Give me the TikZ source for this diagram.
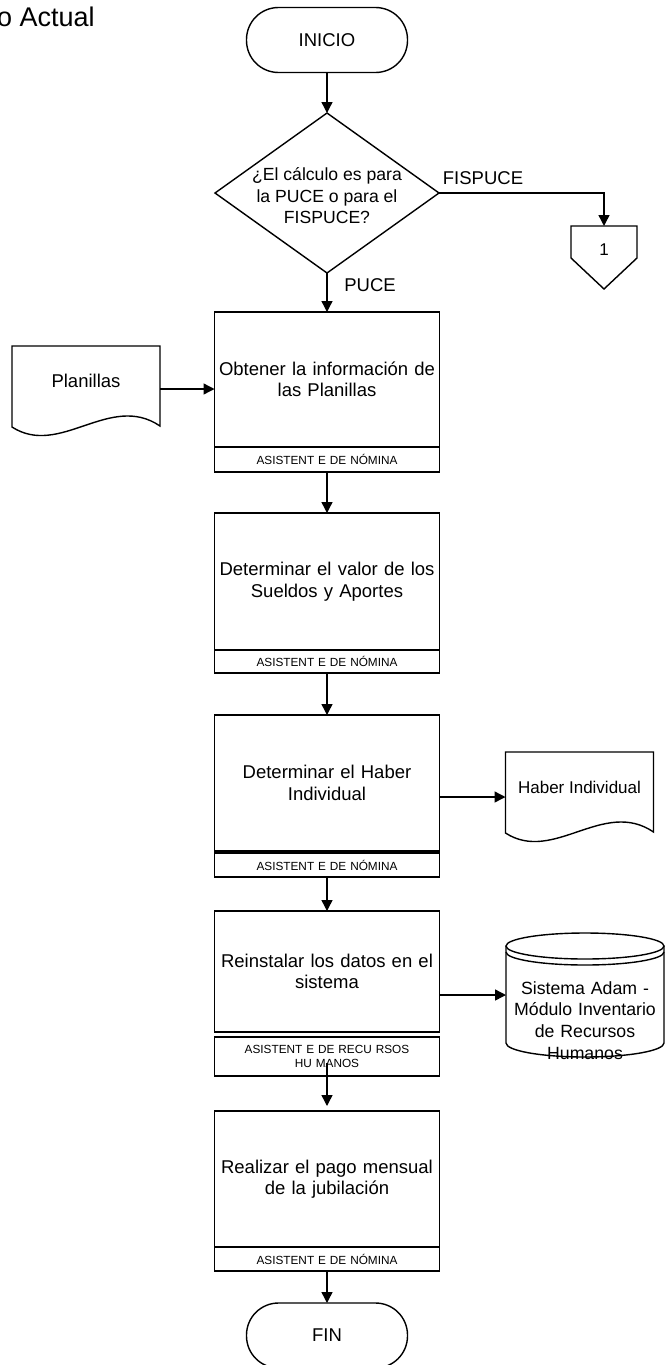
\documentclass[tikz,border=0pt]{standalone}
\usepackage{fontspec}
\setmainfont{Liberation Sans}
\usetikzlibrary{positioning,shapes.geometric,arrows.meta}

\begin{document}
\begin{tikzpicture}[x=1pt, y=-1pt, line width=1.4pt,
		box/.style={draw, outer sep=0pt, minimum width=225pt, text width=220pt, inner sep=1pt, align=center, font=\fontsize{18.5}{21.5}\selectfont},
		who/.style={draw, outer sep=0pt, minimum width=225pt, minimum height=24pt, text width=220pt, inner sep=1pt, align=center, font=\fontsize{11.8}{13.5}\selectfont},
		term/.style={draw, outer sep=0pt, rounded corners=32pt, minimum width=161pt, minimum height=65pt, font=\fontsize{18.5}{21.5}\selectfont},
		dec/.style={draw, diamond, outer sep=0pt, inner sep=0pt, minimum width=224pt, minimum height=160pt},
		dtxt/.style={align=center, font=\fontsize{17.6}{21.5}\selectfont},
		doc/.style={outer sep=0pt, minimum width=148pt, minimum height=70pt, align=center},
		lbl/.style={font=\fontsize{18.5}{21.5}\selectfont},
		arr/.style={-{Triangle[length=11pt,width=11pt]}}]

		\useasboundingbox (0,0) rectangle (665,1365);

		\node[anchor=base west, font=\fontsize{27}{30}\selectfont] (t) at (-7,26) {o Actual};

		\node[term] (a) at (327,40) {INICIO};
		\node[dec, below=40.5pt of a, label={[dtxt, yshift=-3pt]center:{¿El cálculo es para\\la PUCE o para el\\FISPUCE?}}] (b) {};
		\node[minimum width=66pt, minimum height=48pt, outer sep=0pt, font=\fontsize{17}{20}\selectfont] (c) at (604,250) {1};

		\node[box, minimum height=135pt, below=39pt of b] (b1) {Obtener la información de\\las Planillas};
		\node[who, minimum height=25pt, below=0pt of b1] (r1) {ASISTENT E DE NÓMINA};
		\node[box, minimum height=137pt, below=41pt of r1] (b2) {Determinar el valor de los\\Sueldos y Aportes};
		\node[who, minimum height=23pt, below=0pt of b2] (r2) {ASISTENT E DE NÓMINA};
		\node[box, minimum height=136pt, below=42pt of r2] (b3) {Determinar el Haber\\Individual};
		\node[who, below=2pt of b3] (r3) {ASISTENT E DE NÓMINA};
		\node[box, minimum height=121pt, below=34pt of r3] (b4) {Reinstalar los datos en el\\sistema};
		\node[who, minimum height=39pt, below=5pt of b4] (r4) {ASISTENT E DE RECU RSOS\\HU MANOS};
		\node[box, minimum height=136pt, below=35pt of r4] (b5) {Realizar el pago mensual\\de la jubilación};
		\node[who, below=0pt of b5] (r5) {ASISTENT E DE NÓMINA};
		\node[term, below=32pt of r5] (f) {FIN};

		\node[doc, font=\fontsize{18.5}{21.5}\selectfont] (d1) at (86,381) {Planillas};
		\node[doc, font=\fontsize{17}{20}\selectfont] (d2) at (579.5,787) {Haber Individual};
		\node[minimum width=158pt, outer sep=0pt, text width=158pt, inner sep=0pt, align=center, font=\fontsize{17.7}{21.7}\selectfont] (s) at (585,1020.5) {Sistema Adam -\\Módulo Inventario\\de Recursos\\Humanos};

		\node[lbl] (l1) at (483,178) {FISPUCE};
		\node[lbl] (l2) at (370,285) {PUCE};

		% off-page connector
		\draw (c.north west) -- (c.north east) -- ++(0,32) -- ++(-33,31) -- ++(-33,-31) -- cycle;

		% documents
		\draw (d1.north west) -- (d1.north east) -- ++(0,80) .. controls +(-50,-34) and +(48,31) .. ++(-148,1) -- cycle;
		\draw (d2.north west) -- (d2.north east) -- ++(0,80) .. controls +(-50,-34) and +(48,31) .. ++(-148,1) -- cycle;

		% data store
		\draw ([shift={(0,-74.5)}]s.center) ellipse [x radius=79pt, y radius=13pt];
		\draw ([shift={(-79,-68.5)}]s.center) arc [start angle=180, end angle=360, x radius=79pt, y radius=13pt];
		\draw ([shift={(-79,-74.5)}]s.center) -- ++(0,97) arc [start angle=180, end angle=360, x radius=79pt, y radius=14pt] -- ++(0,-97);

		\coordinate (e1) at ([shift={(74,8)}]d1.center);
		\coordinate (e2) at ([shift={(0,14)}]b3.east);
		\coordinate (e3) at ([shift={(0,23.5)}]b4.east);

		\draw[arr] (a.south) -- (b.north);
		\draw[arr] (b.east) -| (c.north);
		\draw[arr] (b.south) -- (b1.north);
		\draw[arr] (e1) -- (e1 -| b1.west);
		\draw[arr] (r1.south) -- (b2.north);
		\draw[arr] (r2.south) -- (b3.north);
		\draw[arr] (e2) -- (e2 -| d2.west);
		\draw[arr] (r3.south) -- (b4.north);
		\draw[arr] (e3) -- (e3 -| s.west);
		\draw[arr, shorten >=5pt] ([shift={(0,-13)}]r4.south) -- (b5.north);
		\draw[arr] (r5.south) -- (f.north);
\end{tikzpicture}
\end{document}
